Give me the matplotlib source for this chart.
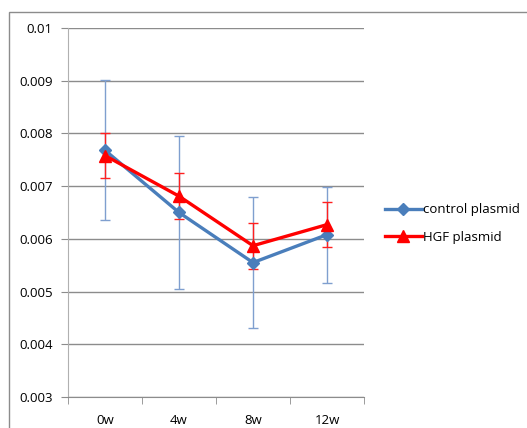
import matplotlib
matplotlib.use('Agg')
import matplotlib.pyplot as plt
from matplotlib.patches import Rectangle
import numpy as np

weeks = ['0w', '4w', '8w', '12w']
control_mean = [0.00768, 0.00650, 0.00555, 0.00608]
control_err = [0.00133, 0.00146, 0.00125, 0.00091]
hgf_mean = [0.00758, 0.00681, 0.00587, 0.00627]
hgf_err = [0.00043, 0.00044, 0.00044, 0.00043]

plt.rcParams['font.family'] = ['Open Sans', 'DejaVu Sans']

fig = plt.figure(figsize=(5.27, 4.28), dpi=100)
ax = fig.add_axes([68 / 527, 1 - 397 / 428, (364 - 68) / 527, (397 - 28) / 428])

# outer chart border (Excel style)
fig.patches.append(Rectangle((9 / 527, -0.1), 1.2, 1 - 12 / 428 + 0.1,
                             transform=fig.transFigure, fill=False,
                             edgecolor='#8c8c8c', linewidth=1.0))

x = np.arange(len(weeks))

ax.errorbar(x, control_mean, yerr=control_err, fmt='none', ecolor='#7f9fcf',
            elinewidth=1.0, capsize=3.5, capthick=1.0, zorder=2)
ax.errorbar(x, hgf_mean, yerr=hgf_err, fmt='none', ecolor='#ff2020',
            elinewidth=1.0, capsize=3.5, capthick=1.0, zorder=2)
ax.plot(x, control_mean, color='#4a7ebb', linewidth=2.4, marker='D',
        markersize=6.5, label='control plasmid', zorder=3)
ax.plot(x, hgf_mean, color='#ff0000', linewidth=2.4, marker='^',
        markersize=8, label='HGF plasmid', zorder=4)

ax.set_xlim(-0.5, 3.5)
ax.set_ylim(0.003, 0.01)
ax.set_yticks(np.arange(0.003, 0.01001, 0.001))
ax.set_yticklabels(['0.003', '0.004', '0.005', '0.006', '0.007', '0.008', '0.009', '0.01'])
ax.set_xticks(x)
ax.set_xticklabels(weeks)
ax.set_xticks(np.arange(-0.5, 3.6, 1.0), minor=True)
ax.tick_params(axis='x', which='major', length=0, pad=12, labelsize=9.5, colors='#000000')
ax.tick_params(axis='x', which='minor', length=5, color='#8c8c8c', direction='out')
ax.tick_params(axis='y', length=5, color='#8c8c8c', direction='out', pad=6, labelsize=9.5)

ax.grid(axis='y', color='#8c8c8c', linewidth=1.0)
ax.set_axisbelow(True)
for side in ['top', 'right']:
    ax.spines[side].set_visible(False)
ax.spines['left'].set_color('#b0b0b0')
ax.spines['bottom'].set_color('#8c8c8c')

ax.legend(loc='center left', bbox_to_anchor=(1.03, 0.47), frameon=False,
          fontsize=9.5, handlelength=2.8, handletextpad=0.1, labelspacing=1.1)

fig.savefig('out.png', dpi=100)
